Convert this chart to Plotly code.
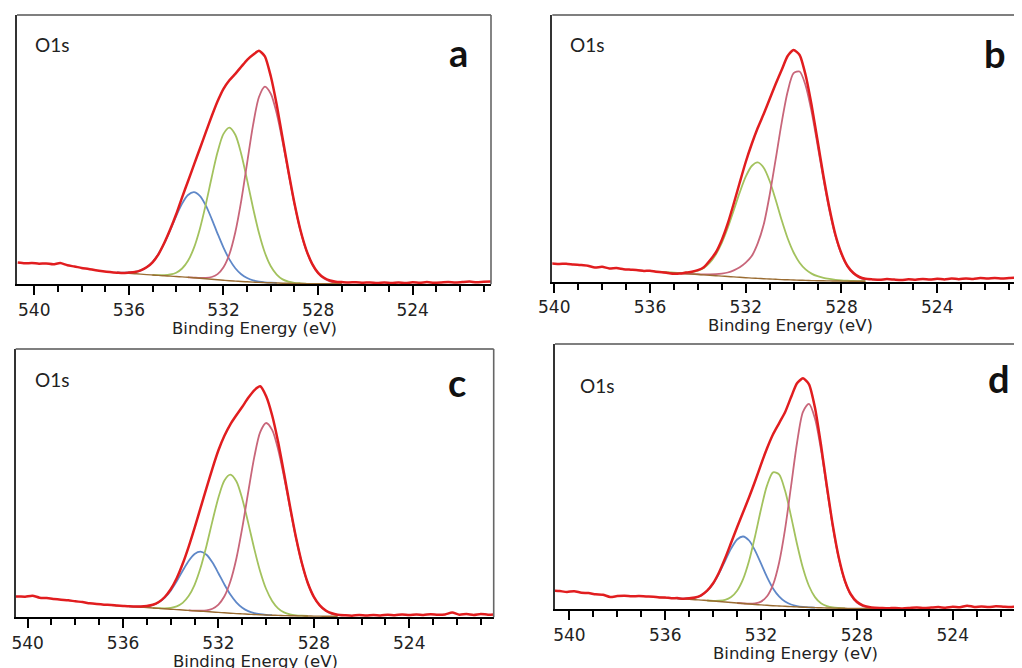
import plotly.graph_objects as go

W, H = 1022, 668
PAGE_OFFSET = 8  # browser body margin: screen px = paper px + 8

# ---------------- energy grids (eV) ----------------
EV_LEFT = [540.7, 540.4, 540.1, 539.8, 539.5, 539.2, 538.9, 538.6, 538.3, 538.0, 537.7, 537.4, 537.1, 536.8]
EV_PEAK = [536.5, 536.25, 536.0, 535.75, 535.5, 535.25, 535.0, 534.75, 534.5, 534.25,
           534.0, 533.75, 533.5, 533.25, 533.0, 532.75, 532.5, 532.25, 532.0, 531.75,
           531.5, 531.25, 531.0, 530.75, 530.5, 530.25, 530.0, 529.75, 529.5, 529.25,
           529.0, 528.75, 528.5, 528.25, 528.0, 527.75, 527.5, 527.25, 527.0]
EV_RIGHT = [526.7, 526.4, 526.1, 525.8, 525.5, 525.2, 524.9, 524.6, 524.3, 524.0, 523.7,
            523.4, 523.1, 522.8, 522.5, 522.2, 521.9, 521.6, 521.3, 521.0, 520.7, 520.4]

# ---------------- panel a ----------------
A_DATA = [21.8, 21.0, 21.3, 20.6, 20.9, 20.0, 21.2, 19.0, 17.8, 16.4, 15.3, 14.0, 13.0, 12.2,
          11.6, 11.2, 11.7, 12.3, 14.0, 17.0, 22.0, 30.0, 41.5, 55.0, 70.0, 87.0, 103.0, 119.5,
          135.5, 152.0, 168.0, 183.0, 195.5, 204.0, 210.5, 217.5, 224.5, 229.5, 233.5, 228.0,
          208.0, 179.5, 146.0, 112.5, 81.0, 54.5, 34.5, 20.5, 11.5, 6.5, 3.8, 2.6, 2.2,
          1.8, 2.1, 1.6, 1.9, 1.4, 1.8, 1.3, 1.7, 1.2, 2.0, 1.5, 2.2, 1.6, 1.9, 2.4, 1.7, 2.3,
          2.8, 2.0, 2.6, 2.9, 2.7]
A_BASE = [11.8, 11.4, 11.0, 10.6, 10.2, 9.7, 9.3, 8.9, 8.5, 8.2, 7.8, 7.4, 7.0, 6.6, 6.1,
          5.6, 5.1, 4.6, 4.1, 3.6, 3.2, 2.8, 2.5, 2.2, 1.9, 1.7, 1.5, 1.3, 1.1, 1.0, 0.9, 0.8,
          0.7, 0.65, 0.6, 0.55, 0.5, 0.5, 0.5]
A_BLUE = [0.1, 0.3, 0.8, 1.8, 3.8, 7.3, 12.9, 21.3, 32.6, 46.1, 60.4, 73.3, 82.3, 85.5, 82.3,
          73.3, 60.4, 46.1, 32.6, 21.3, 12.9, 7.3, 3.8, 1.8, 0.8, 0.3, 0.1,
          0, 0, 0, 0, 0, 0, 0, 0, 0, 0, 0, 0]
A_GREEN = [0, 0, 0, 0, 0, 0, 0,
           0.2, 0.6, 1.6, 3.8, 8.4, 16.5, 29.8, 49.3, 74.1, 101.7, 127.6, 146.3, 153.0, 146.3,
           127.6, 101.7, 74.1, 49.3, 29.8, 16.5, 8.4, 3.8, 1.6, 0.6, 0.2,
           0, 0, 0, 0, 0, 0, 0]
A_ROSE = [0, 0, 0, 0, 0, 0, 0, 0, 0, 0, 0, 0, 0,
          0.1, 0.3, 0.8, 2.2, 5.6, 12.9, 26.5, 48.9, 80.6, 118.9, 157.0, 185.4, 196.0, 189.1,
          169.5, 141.5, 110.0, 79.4, 53.3, 33.3, 19.4, 10.6, 5.3, 2.5, 1.1, 0.5]

# ---------------- panel b ----------------
B_DATA = [19.0, 18.8, 18.6, 18.0, 18.3, 17.5, 17.0, 16.3, 14.5, 15.2, 13.5, 13.9, 12.8, 12.3,
          11.8, 11.0, 11.3, 10.2, 9.8, 9.0, 8.2, 8.5, 9.4, 10.2, 11.8, 14.8, 21.5, 29.5, 42.0,
          58.5, 78.5, 99.5, 120.0, 138.0, 154.0, 168.0, 183.0, 198.0, 212.0, 226.0, 232.0,
          227.0, 207.0, 177.0, 141.5, 105.5, 73.5, 47.0, 28.5, 16.0, 9.0, 5.0, 3.2,
          2.6, 2.2, 2.9, 2.4, 2.0, 2.7, 2.3, 3.0, 2.4, 3.2, 2.6, 3.5, 2.8, 3.6, 3.1, 3.9, 3.4,
          4.0, 3.5, 3.9, 4.2, 3.8]
B_BASE = [11.6, 11.2, 10.8, 10.4, 10.0, 9.5, 9.1, 8.7, 8.3, 7.9, 7.5, 7.1, 6.7, 6.3, 5.9,
          5.5, 5.1, 4.7, 4.3, 3.9, 3.6, 3.3, 3.0, 2.7, 2.4, 2.2, 2.0, 1.8, 1.6, 1.4, 1.3, 1.2,
          1.1, 1.0, 0.9, 0.85, 0.8, 0.8, 0.8]
B_GREEN = [0, 0, 0, 0,
           0.1, 0.2, 0.3, 0.5, 1.0, 2.0, 3.8, 7.0, 12.6, 21.2, 33.3, 48.8, 66.7, 84.9, 101.0,
           112.1, 116.0, 111.0, 98.0, 79.5, 59.5, 41.5, 27.5, 17.5, 11.0, 7.0, 4.5, 3.0, 2.0,
           1.2, 0.7, 0.4, 0.2, 0.1, 0]
B_ROSE = [0, 0, 0, 0, 0, 0, 0, 0,
          0.1, 0.2, 0.3, 0.5, 0.9, 1.5, 2.5, 4.0, 6.5, 10.0, 15.0, 22.0, 35.0, 54.1, 84.1,
          119.9, 156.8, 188.0, 206.8, 208.7, 195.0, 169.0, 135.7, 101.2, 69.9, 44.7, 26.6,
          14.6, 7.5, 3.5, 1.6]

# ---------------- panel c ----------------
C_DATA = [20.5, 20.8, 20.6, 21.6, 19.6, 19.2, 18.4, 17.6, 17.0, 16.0, 15.2, 14.0, 13.2, 12.6,
          12.3, 11.8, 11.4, 11.0, 10.9, 10.8, 11.3, 12.5, 15.3, 20.3, 28.0, 39.0, 53.5, 70.5,
          89.5, 109.5, 129.5, 149.0, 167.0, 181.5, 193.0, 202.0, 210.5, 219.5, 227.0, 231.0,
          221.0, 202.0, 175.5, 144.0, 111.0, 80.0, 54.0, 34.0, 20.5, 12.0, 6.8, 4.0, 2.6,
          2.0, 1.6, 2.3, 1.8, 2.4, 1.9, 2.6, 2.1, 2.8, 2.2, 2.9, 2.4, 3.0, 2.5, 2.9, 4.8, 2.6,
          3.3, 2.4, 3.4, 2.6, 3.0]
C_BASE = [12.0, 11.6, 11.2, 10.9, 10.5, 10.1, 9.7, 9.3, 8.9, 8.5, 8.1, 7.7, 7.3, 6.9, 6.5,
          6.1, 5.7, 5.3, 4.9, 4.5, 4.1, 3.7, 3.4, 3.1, 2.8, 2.5, 2.3, 2.1, 1.9, 1.7, 1.6, 1.5,
          1.4, 1.3, 1.2, 1.15, 1.1, 1.1, 1.1]
C_BLUE = [0, 0, 0, 0,
          0.2, 0.6, 1.4, 3.0, 6.1, 11.2, 18.6, 28.3, 39.2, 49.4, 56.8, 59.5, 56.8, 49.4, 39.2,
          28.3, 18.6, 11.2, 6.1, 3.0, 1.4, 0.6, 0.2,
          0, 0, 0, 0, 0, 0, 0, 0, 0, 0, 0, 0]
C_GREEN = [0, 0, 0, 0, 0, 0, 0, 0,
           0.2, 0.5, 1.3, 3.2, 7.1, 14.3, 26.0, 43.4, 65.9, 91.1, 115.0, 132.3, 138.5, 132.3,
           115.0, 91.1, 65.9, 43.4, 26.0, 14.3, 7.1, 3.2, 1.3, 0.5, 0.2,
           0, 0, 0, 0, 0, 0]
C_ROSE = [0, 0, 0, 0, 0, 0, 0, 0, 0, 0, 0, 0, 0, 0,
          0.2, 0.5, 1.3, 3.3, 7.8, 16.5, 31.7, 54.9, 86.2, 122.3, 157.1, 182.6, 192.0, 185.3,
          166.1, 138.6, 107.7, 77.8, 52.2, 32.6, 19.0, 10.4, 5.2, 2.4, 1.1]

# ---------------- panel d ----------------
D_DATA = [18.8, 18.2, 17.4, 18.0, 16.6, 16.2, 15.0, 14.6, 12.4, 13.2, 13.6, 13.0, 13.2, 12.8,
          12.6, 11.8, 11.9, 11.0, 11.2, 10.6, 11.0, 11.8, 14.0, 18.6, 26.0, 37.0, 51.0, 66.5,
          82.0, 97.0, 112.0, 128.0, 145.0, 161.0, 175.0, 186.0, 197.0, 212.0, 226.0, 231.0,
          225.0, 201.5, 164.5, 122.5, 83.0, 51.0, 28.5, 14.8, 7.5, 4.0, 2.4, 1.6, 1.3,
          1.0, 1.4, 0.9, 1.3, 1.8, 1.2, 1.7, 2.2, 1.6, 2.5, 2.0, 3.6, 2.4, 2.9, 2.3, 3.0, 2.6,
          2.2, 2.9, 2.4, 2.6, 2.3]
D_BASE = [12.4, 12.0, 11.6, 11.2, 10.8, 10.4, 10.0, 9.6, 9.2, 8.8, 8.3, 7.8, 7.3, 6.8, 6.3,
          5.8, 5.3, 4.8, 4.4, 4.0, 3.6, 3.3, 3.0, 2.7, 2.4, 2.1, 1.9, 1.7, 1.5, 1.3, 1.2, 1.1,
          1.0, 0.9, 0.85, 0.8, 0.8, 0.8, 0.8]
D_BLUE = [0, 0, 0, 0, 0,
          0.3, 0.8, 2.1, 4.7, 9.6, 17.3, 28.2, 41.2, 53.9, 63.5, 67.0, 63.5, 53.9, 41.2, 28.2,
          17.3, 9.6, 4.7, 2.1, 0.8, 0.3, 0.1,
          0, 0, 0, 0, 0, 0, 0, 0, 0, 0, 0, 0]
D_GREEN = [0, 0, 0, 0, 0, 0, 0, 0, 0, 0,
           0.2, 0.8, 2.1, 5.4, 12.2, 24.3, 43.2, 68.3, 95.9, 119.9, 133.3, 131.7, 115.8, 90.5,
           62.9, 38.9, 21.4, 10.5, 4.5, 1.8, 0.6, 0.2,
           0, 0, 0, 0, 0, 0, 0]
D_ROSE = [0, 0, 0, 0, 0, 0, 0, 0, 0, 0, 0, 0, 0, 0, 0,
          0.1, 0.3, 1.1, 3.3, 9.0, 21.0, 43.0, 76.9, 120.1, 163.9, 195.4, 203.6, 189.1, 158.1,
          118.9, 80.6, 49.1, 26.9, 13.3, 5.9, 2.4, 0.9, 0.3, 0.1]

PANEL_LETTERS = ["a", "b", "c", "d"]
CORE_LEVEL = "O1s"
X_TITLE = "Binding Energy (eV)"

# ---------------- styling / layout (screen pixels in the 1022x668 window) ----------------
RED = "#e11d1f"
BLUE = "#5f88c8"
GREEN = "#a3c25e"
ROSE = "#c8667a"
BROWN = "#9a6c32"

# plot boxes: left, right, top, bottom (screen px), x range, y max
BOXES = [
    dict(l=17, r=491, t=15, b=284.3, xr=[540.73, 520.69], ymax=269.3, right_border=True),
    dict(l=552.3, r=1022, t=15, b=282, xr=[540.08, 520.46], ymax=267.0, right_border=False),
    dict(l=15.7, r=493.7, t=349, b=617.3, xr=[540.5, 520.46], ymax=268.3, right_border=True),
    dict(l=555, r=1022, t=344, b=609.3, xr=[540.6, 521.11], ymax=265.3, right_border=False),
]
O1S_POS = [(52, 45), (587, 45), (52, 380), (597, 385)]
LETTER_POS = [(458, 52), (995, 53), (457, 382), (999, 378)]
TITLE_POS = [(254, 328), (790, 325), (255, 661), (795, 653)]

PANELS = [
    (A_DATA, A_BASE, [A_BLUE, A_GREEN, A_ROSE], [BLUE, GREEN, ROSE]),
    (B_DATA, B_BASE, [B_GREEN, B_ROSE], [GREEN, ROSE]),
    (C_DATA, C_BASE, [C_BLUE, C_GREEN, C_ROSE], [BLUE, GREEN, ROSE]),
    (D_DATA, D_BASE, [D_BLUE, D_GREEN, D_ROSE], [BLUE, GREEN, ROSE]),
]

EV_DATA = EV_LEFT + EV_PEAK + EV_RIGHT


def px(sx):
    return (sx - PAGE_OFFSET) / W


def py(sy):
    return 1 - (sy - PAGE_OFFSET) / H


fig = go.Figure()
layout = dict(width=W, height=H, margin=dict(l=0, r=0, t=0, b=0, autoexpand=False),
              paper_bgcolor="white", plot_bgcolor="white", showlegend=False)
shapes = []
annotations = []

for i, (data, base, comps, colors) in enumerate(PANELS):
    n = i + 1
    xa = "x" if n == 1 else f"x{n}"
    ya = "y" if n == 1 else f"y{n}"
    box = BOXES[i]

    for comp, col in zip(comps, colors):
        nz = [k for k, v in enumerate(comp) if v > 0]
        i0 = max(nz[0] - 1, 0)
        i1 = min(nz[-1] + 1, len(comp) - 1)
        xs = EV_PEAK[i0:i1 + 1]
        ys = [base[k] + comp[k] for k in range(i0, i1 + 1)]
        fig.add_trace(go.Scatter(x=xs, y=ys, mode="lines", xaxis=xa, yaxis=ya,
                                 line=dict(color=col, width=1.8, shape="spline", smoothing=0.8),
                                 hoverinfo="skip"))
    fig.add_trace(go.Scatter(x=EV_PEAK, y=base, mode="lines", xaxis=xa, yaxis=ya,
                             line=dict(color=BROWN, width=1.4, shape="spline"),
                             hoverinfo="skip"))
    fig.add_trace(go.Scatter(x=EV_DATA, y=data, mode="lines", xaxis=xa, yaxis=ya,
                             line=dict(color=RED, width=2.5, shape="spline", smoothing=0.6),
                             hoverinfo="skip"))

    x0, x1 = px(box["l"]), min(px(box["r"]), 1.0)
    y0, y1 = py(box["b"]), py(box["t"])
    key = "" if n == 1 else str(n)
    layout["xaxis" + key] = dict(
        domain=[x0, x1], range=box["xr"], anchor=ya, automargin=False,
        showline=True, linecolor="black", linewidth=2,
        ticks="outside", ticklen=9, tickwidth=2, tickcolor="black",
        tickmode="linear", tick0=0, dtick=4,
        minor=dict(ticks="outside", ticklen=6, tickwidth=1.6, tickcolor="black",
                   tickmode="linear", tick0=0, dtick=1, showgrid=False),
        showgrid=False, zeroline=False,
        tickfont=dict(family="DejaVu Sans", size=17, color="#222"),
    )
    layout["yaxis" + key] = dict(
        domain=[y0, y1], range=[0, box["ymax"]], anchor=xa, automargin=False,
        showline=True, linecolor="#333", linewidth=2,
        ticks="", showticklabels=False, showgrid=False, zeroline=False,
    )
    # top border and (when visible) right border
    shapes.append(dict(type="line", xref="paper", yref="paper", x0=x0, x1=x1, y0=y1, y1=y1,
                       line=dict(color="#555", width=1.6)))
    if box["right_border"]:
        shapes.append(dict(type="line", xref="paper", yref="paper", x0=x1, x1=x1, y0=y0, y1=y1,
                           line=dict(color="#666", width=1.6)))

    ox, oy = O1S_POS[i]
    annotations.append(dict(text=CORE_LEVEL, x=px(ox), y=py(oy), xref="paper", yref="paper",
                            showarrow=False, xanchor="center", yanchor="middle",
                            font=dict(family="Lato", size=19, color="#222")))
    lx, ly = LETTER_POS[i]
    annotations.append(dict(text="<b>" + PANEL_LETTERS[i] + "</b>", x=px(lx), y=py(ly),
                            xref="paper", yref="paper", showarrow=False,
                            xanchor="center", yanchor="middle",
                            font=dict(family="Lato", size=38, color="#111")))
    tx, ty = TITLE_POS[i]
    annotations.append(dict(text=X_TITLE, x=px(tx), y=py(ty), xref="paper", yref="paper",
                            showarrow=False, xanchor="center", yanchor="middle",
                            font=dict(family="DejaVu Sans", size=16.5, color="#222")))

layout["shapes"] = shapes
layout["annotations"] = annotations
fig.update_layout(**layout)
fig.write_html("out.html")
